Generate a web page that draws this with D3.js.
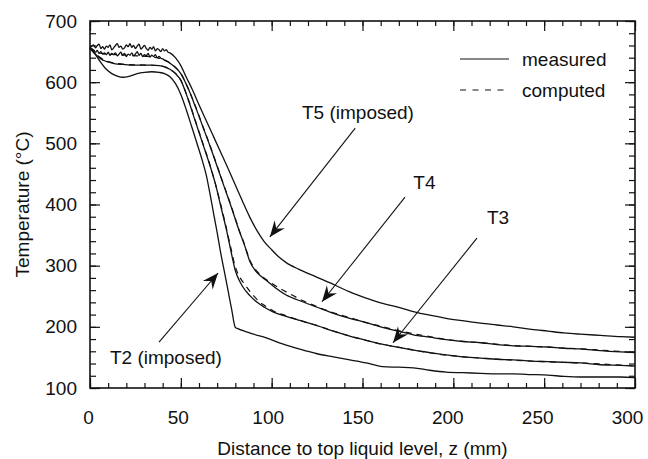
<!DOCTYPE html>
<html>
<head>
<meta charset="utf-8">
<script src="https://cdn.jsdelivr.net/npm/d3@7"></script>
<style>
body { margin:0; background:#fff; }
svg { display:block; }
text { font-family:"Liberation Sans", Arial, sans-serif; fill:#111; }
</style>
</head>
<body>
<svg width="648" height="459"></svg>
<script>
// z (mm), T (degC)
var t5meas = [[0,657],[1,659],[2,661],[3,656],[4,660],[5,662],[6,655],[7,658],[8,654],[9,659],[10,657],[11,661],[12,653],[13,656],[14,660],[15,663],[16,657],[17,659],[18,654],[19,656],[20,661],[21,658],[22,663],[23,657],[24,660],[25,655],[26,659],[27,662],[28,654],[29,657],[30,660],[31,655],[32,652],[33,657],[34,654],[35,658],[36,651],[37,655],[38,653],[39,650],[40,655],[41,651],[42,653],[43,649],[44,648],
  [47,640],[50,627],[53,608],[56,590],[60,563],[64,537],[68,511],[72,485],[76,459],[80,432],[84,405],[88,379],[92,357],[96,339],[100,326],[104,314],[108,305],[115,294],[125,281],[135,268],[143,257],[152,247],[160,239],[171,231],[178,225],[187,219],[196,214],[205,210],[215,206],[224,203],[233,200],[243,196],[252,193],[261,190],[270,188],[281,186],[292,184],[300,183]];
var t4meas = [[0,656],[1,653],[2,651],[3,649],[4,652],[5,647],[6,650],[7,646],[8,648],[9,645],[10,649],[11,644],[12,647],[13,645],[14,648],[15,643],[16,646],[17,649],[18,644],[19,647],[20,642],[21,646],[22,644],[23,648],[24,643],[25,646],[26,650],[27,644],[28,647],[29,642],[30,645],[31,643],[32,647],[33,641],[34,644],[35,642],[36,645],[37,640],[38,642],[39,639],[40,638],[41,636],[43,633],[45,629],[47,624],
  [50,614],[54,590],[58,560],[62,528],[66,496],[70,462],[74,428],[78,394],[82,358],[85,334],[88,307],[91,292],[94,283],[97,276],[102,264],[108,252],[117,241],[125,232],[134,222],[143,214],[152,207],[160,200],[171,192],[178,187],[187,183],[196,179],[205,176],[215,174],[224,171],[233,169],[243,168],[252,167],[261,165],[270,164],[281,161],[292,159],[300,158]];
var t3meas = [[0,655],[2,649],[4,643],[6,638],[8,635],[10,633],[14,630],[18,629],[22,628],[28,628],[34,628],[38,627],[41,625],[44,621],[47,614],[50,603],[54,572],[58,536],[62,500],[66,464],[69,434],[72,397],[75,360],[78,318],[80,292],[82,277],[84,266],[88,251],[92,240],[96,232],[101,224],[108,217],[116,210],[125,202],[134,193],[143,185],[152,178],[160,172],[171,166],[178,162],[187,158],[196,154],[205,151],[215,149],[224,147],[233,146],[243,144],[252,143],[261,142],[270,141],[281,138],[292,137],[300,136]];
var t2meas = [[0,655],[3,645],[6,632],[9,621],[12,614],[15,610],[18,608],[22,610],[26,614],[30,616],[34,617],[38,616],[41,614],[44,609],[47,598],[50,580],[53,555],[56,527],[59,499],[62,470],[64,448],[66,418],[68,386],[70,354],[72,320],[74,290],[76,259],[78,228],[80,199],[81.5,197],[83,195],[85,193],[90,188],[97,182],[106,172],[116,163],[125,156],[134,151],[143,146],[152,141],[161,135],[170,134],[178,133],[187,129],[196,126],[205,125],[215,124],[224,123],[233,123],[243,122],[252,121],[261,119],[270,118],[281,118],[292,118],[300,117]];
var t4comp = [[0,657],[4,649],[8,646],[14,645],[20,644],[26,643],[32,642],[38,639],[42,635],[46,627],[50,614],[54,590],[58,561],[62,529],[66,497],[70,463],[74,429],[78,395],[82,359],[85,335],[88,309],[91,294],[95,282],[100,271],[105,262],[110,254],[117,243],[125,233],[134,223],[143,215],[152,207],[160,201],[171,193],[185,185],[200,178],[215,174],[230,170],[250,167],[270,164],[300,158]];
var t3comp = [[0,656],[4,644],[8,636],[14,631],[20,629],[30,628],[38,627],[44,621],[50,603],[54,573],[58,537],[62,501],[66,465],[70,423],[74,375],[77,336],[80,298],[82.5,281],[85,270],[87,262],[90,251],[92.5,243],[96,235],[101,226],[108,218],[116,210],[125,202],[134,193],[143,185],[152,178],[160,172],[175,164],[190,156],[210,150],[230,146],[250,143],[270,141],[300,136]];

var xTicks = [0,50,100,150,200,250,300];
var yTicks = [100,200,300,400,500,600,700];

// label text, label anchor (z,T), arrow start, arrow tip
var notes = [
  {label:"T5 (imposed)", at:[116.7,540], from:[146,525], to:[99,347]},
  {label:"T4", at:[178,425], from:[173.4,412], to:[127.7,241]},
  {label:"T3", at:[218.5,368], from:[213,345], to:[166.8,174]},
  {label:"T2 (imposed)", at:[11,139], from:[38,175], to:[70.5,288]}
];

var svg = d3.select("svg");
var pl = 90, pr = 635, pt = 21, pb = 388;
var x = d3.scaleLinear().domain([0,300]).range([pl,pr]);
var y = d3.scaleLinear().domain([100,700]).range([pb,pt]);

var xMinor = d3.range(0,301,10), yMinor = d3.range(100,701,20);

function styleAxis(g) {
  g.select(".domain").remove();
  g.selectAll("line").attr("stroke","#111").attr("stroke-width",1.2);
  g.attr("font-family",null).attr("font-size",null);
  g.selectAll("text").style("font-size","19px");
}

// minor ticks all four sides
svg.append("g").attr("transform","translate(0,"+pb+")")
  .call(d3.axisBottom(x).tickValues(xMinor).tickSize(-5).tickFormat("")).call(styleAxis);
svg.append("g").attr("transform","translate(0,"+pt+")")
  .call(d3.axisTop(x).tickValues(xMinor).tickSize(-5).tickFormat("")).call(styleAxis);
svg.append("g").attr("transform","translate("+pl+",0)")
  .call(d3.axisLeft(y).tickValues(yMinor).tickSize(-6).tickFormat("")).call(styleAxis);
svg.append("g").attr("transform","translate("+pr+",0)")
  .call(d3.axisRight(y).tickValues(yMinor).tickSize(-6).tickFormat("")).call(styleAxis);

// major ticks + labels
svg.append("g").attr("transform","translate(0,"+pb+")")
  .call(d3.axisBottom(x).tickValues(xTicks).tickSize(-10).tickPadding(23).tickFormat(d3.format("d"))).call(styleAxis)
  .selectAll("text").attr("dx", function(d){ return -d/50 - 2; });
svg.append("g").attr("transform","translate(0,"+pt+")")
  .call(d3.axisTop(x).tickValues(xTicks).tickSize(-10).tickFormat("")).call(styleAxis);
svg.append("g").attr("transform","translate("+pl+",0)")
  .call(d3.axisLeft(y).tickValues(yTicks).tickSize(-10).tickPadding(13).tickFormat(d3.format("d"))).call(styleAxis);
svg.append("g").attr("transform","translate("+pr+",0)")
  .call(d3.axisRight(y).tickValues(yTicks).tickSize(-10).tickFormat("")).call(styleAxis);

// frame
svg.append("rect").attr("x",pl).attr("y",pt).attr("width",pr-pl).attr("height",pb-pt)
  .attr("fill","none").attr("stroke","#111").attr("stroke-width",1.6);

var line = d3.line().x(function(d){return x(d[0]);}).y(function(d){return y(d[1]);}).curve(d3.curveMonotoneX);

[t3comp,t4comp].forEach(function(s){
  svg.append("path").attr("d",line(s)).attr("fill","none").attr("stroke","#111")
    .attr("stroke-width",1.2).attr("stroke-dasharray","6,5");
});
[t5meas,t4meas,t3meas,t2meas].forEach(function(s){
  svg.append("path").attr("d",line(s)).attr("fill","none").attr("stroke","#111")
    .attr("stroke-width",1.3).attr("stroke-linejoin","round");
});

// arrows
svg.append("defs").append("marker").attr("id","head")
  .attr("viewBox","-17 -8 18 16").attr("refX",0).attr("refY",0)
  .attr("markerWidth",18).attr("markerHeight",16).attr("markerUnits","userSpaceOnUse")
  .attr("orient","auto")
  .append("path").attr("d","M0,0L-16,-6.5L-10.5,0L-16,6.5Z").attr("fill","#111");

notes.forEach(function(n){
  svg.append("line").attr("x1",x(n.from[0])).attr("y1",y(n.from[1]))
    .attr("x2",x(n.to[0])).attr("y2",y(n.to[1]))
    .attr("stroke","#111").attr("stroke-width",1.1).attr("marker-end","url(#head)");
  svg.append("text").attr("x",x(n.at[0])).attr("y",y(n.at[1]))
    .style("font-size","19px").text(n.label);
});

// legend
var lg = svg.append("g");
lg.append("line").attr("x1",460).attr("x2",509).attr("y1",59).attr("y2",59)
  .attr("stroke","#111").attr("stroke-width",1.2);
lg.append("line").attr("x1",460).attr("x2",509).attr("y1",90).attr("y2",90)
  .attr("stroke","#111").attr("stroke-width",1.2).attr("stroke-dasharray","6,6.5");
lg.append("text").attr("x",522).attr("y",66).style("font-size","19px").text("measured");
lg.append("text").attr("x",522).attr("y",97).style("font-size","19px").text("computed");

// axis titles
svg.append("text").attr("x",(pl+pr)/2).attr("y",455).attr("text-anchor","middle")
  .style("font-size","19px").text("Distance to top liquid level, z (mm)");
svg.append("text").attr("transform","translate(29,"+((pt+pb)/2)+") rotate(-90)")
  .attr("text-anchor","middle").style("font-size","19px").text("Temperature (°C)");
</script>
</body>
</html>
